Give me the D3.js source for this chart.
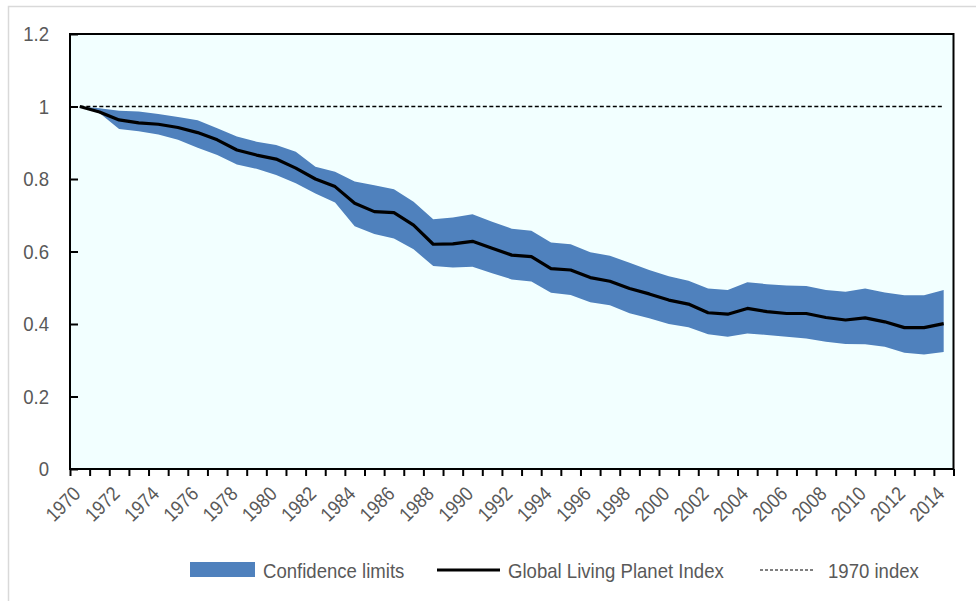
<!DOCTYPE html>
<html>
<head>
<meta charset="utf-8">
<script src="https://cdn.jsdelivr.net/npm/d3@7"></script>
<style>
  body { margin: 0; background: #fff; }
  text { font-family: "Liberation Sans", Arial, sans-serif; fill: #595959; }
</style>
</head>
<body>
<div id="chart"></div>
<script>
// years on the category axis
const years = [1970, 1971, 1972, 1973, 1974, 1975, 1976, 1977, 1978, 1979,
               1980, 1981, 1982, 1983, 1984, 1985, 1986, 1987, 1988, 1989,
               1990, 1991, 1992, 1993, 1994, 1995, 1996, 1997, 1998, 1999,
               2000, 2001, 2002, 2003, 2004, 2005, 2006, 2007, 2008, 2009,
               2010, 2011, 2012, 2013, 2014];

// Global Living Planet Index
const lpi = [1.000, 0.985, 0.963, 0.955, 0.951, 0.942, 0.928, 0.908, 0.880, 0.866,
             0.855, 0.830, 0.800, 0.779, 0.733, 0.710, 0.707, 0.673, 0.620, 0.621,
             0.628, 0.609, 0.590, 0.586, 0.553, 0.549, 0.528, 0.518, 0.498, 0.483,
             0.466, 0.455, 0.431, 0.427, 0.443, 0.434, 0.429, 0.429, 0.418, 0.411,
             0.417, 0.406, 0.390, 0.390, 0.401];

// confidence limits
const upper = [1.000, 0.995, 0.988, 0.986, 0.979, 0.971, 0.962, 0.940, 0.917, 0.903,
               0.894, 0.875, 0.834, 0.820, 0.793, 0.783, 0.772, 0.737, 0.689, 0.694,
               0.703, 0.682, 0.663, 0.657, 0.625, 0.620, 0.598, 0.588, 0.569, 0.549,
               0.532, 0.519, 0.498, 0.494, 0.515, 0.510, 0.506, 0.505, 0.494, 0.489,
               0.498, 0.487, 0.479, 0.479, 0.494];
const lower = [1.000, 0.982, 0.938, 0.932, 0.923, 0.908, 0.886, 0.866, 0.840, 0.828,
               0.811, 0.788, 0.760, 0.735, 0.670, 0.648, 0.636, 0.606, 0.560, 0.556,
               0.558, 0.540, 0.523, 0.517, 0.486, 0.480, 0.460, 0.452, 0.430, 0.416,
               0.400, 0.391, 0.372, 0.365, 0.374, 0.370, 0.365, 0.360, 0.351, 0.345,
               0.344, 0.337, 0.321, 0.316, 0.323];

const baseline = 1;   // 1970 index
const yTicks = [0, 0.2, 0.4, 0.6, 0.8, 1, 1.2];
const legendItems = ["Confidence limits", "Global Living Planet Index", "1970 index"];

const W = 976, H = 601;
const plot = { left: 70, right: 953.5, top: 34, bottom: 469 };
const sx = 0.885;   // squeeze text horizontally, the source font is a narrow one

const svg = d3.select("#chart").append("svg")
  .attr("width", W).attr("height", H);

// outer chart border (cropped at right/bottom)
svg.append("rect")
  .attr("x", 8.5).attr("y", 6.5).attr("width", 1000).attr("height", 1000)
  .attr("fill", "none").attr("stroke", "#d9d9d9").attr("stroke-width", 1.5);

const data = years.map((yr, i) => ({ year: yr, v: lpi[i], hi: upper[i], lo: lower[i] }));

const x = d3.scaleBand().domain(years).range([plot.left, plot.right]);
const xEdge = d3.scaleLinear().domain([0, years.length]).range([plot.left, plot.right]);
const y = d3.scaleLinear().domain([0, 1.2]).range([plot.bottom, plot.top]);
const cx = d => x(d) + x.bandwidth() / 2;

// plot background
svg.append("rect")
  .attr("x", plot.left).attr("y", plot.top)
  .attr("width", plot.right - plot.left).attr("height", plot.bottom - plot.top)
  .attr("fill", "#f2ffff");

// confidence band
svg.append("path")
  .datum(data)
  .attr("fill", "#4f81bd")
  .attr("d", d3.area()
    .x(d => cx(d.year))
    .y0(d => y(d.lo))
    .y1(d => y(d.hi)));

// 1970 index line
svg.append("line")
  .attr("x1", cx(years[0])).attr("x2", cx(years[years.length - 1]))
  .attr("y1", y(baseline)).attr("y2", y(baseline))
  .attr("stroke", "#000").attr("stroke-width", 1.3)
  .attr("stroke-dasharray", "4,2.5");

// LPI line
svg.append("path")
  .datum(data)
  .attr("fill", "none")
  .attr("stroke", "#000")
  .attr("stroke-width", 3.2)
  .attr("stroke-linejoin", "round")
  .attr("d", d3.line().x(d => cx(d.year)).y(d => y(d.v)));

// y axis, ticks point inward
const yAxis = svg.append("g")
  .attr("transform", "translate(" + plot.left + ",0)")
  .call(d3.axisLeft(y).tickValues(yTicks).tickSize(-8).tickPadding(21 / sx)
    .tickFormat(d3.format("~g")));
yAxis.select(".domain").remove();
yAxis.selectAll("line").attr("stroke", "#000").attr("stroke-width", 2);
yAxis.selectAll("text")
  .style("font-size", "21px")
  .style("font-family", "'Liberation Sans', Arial, sans-serif")
  .attr("fill", "#595959")
  .attr("transform", "scale(" + sx + ",1)");

// x axis tick marks on band edges
const xAxis = svg.append("g")
  .attr("transform", "translate(0," + plot.bottom + ")")
  .call(d3.axisBottom(xEdge).tickValues(d3.range(years.length + 1)).tickSize(7).tickFormat(""));
xAxis.select(".domain").remove();
xAxis.selectAll("line").attr("stroke", "#000").attr("stroke-width", 2);

// rotated year labels (every other year)
svg.append("g").selectAll("text")
  .data(years.filter(yr => yr % 2 === 0))
  .join("text")
  .attr("text-anchor", "end")
  .attr("transform", d => "translate(" + (cx(d) + 2) + "," + 495 + ") rotate(-45) scale(" + sx + ",1)")
  .style("font-size", "20px")
  .text(d => d);

// plot frame
svg.append("rect")
  .attr("x", plot.left).attr("y", plot.top)
  .attr("width", plot.right - plot.left).attr("height", plot.bottom - plot.top)
  .attr("fill", "none").attr("stroke", "#000").attr("stroke-width", 2);

// legend
const lg = svg.append("g").style("font-size", "21px");
lg.append("rect").attr("x", 190).attr("y", 562).attr("width", 65).attr("height", 15)
  .attr("fill", "#4f81bd");
lg.append("line").attr("x1", 437).attr("x2", 500).attr("y1", 570).attr("y2", 570)
  .attr("stroke", "#000").attr("stroke-width", 3.2);
lg.append("line").attr("x1", 760).attr("x2", 815).attr("y1", 570).attr("y2", 570)
  .attr("stroke", "#000").attr("stroke-width", 1.2).attr("stroke-dasharray", "3,2");
lg.selectAll("text")
  .data(legendItems)
  .join("text")
  .attr("transform", (d, i) => "translate(" + [263, 508, 828][i] + ",578) scale(" + sx + ",1)")
  .text(d => d);
</script>
</body>
</html>
